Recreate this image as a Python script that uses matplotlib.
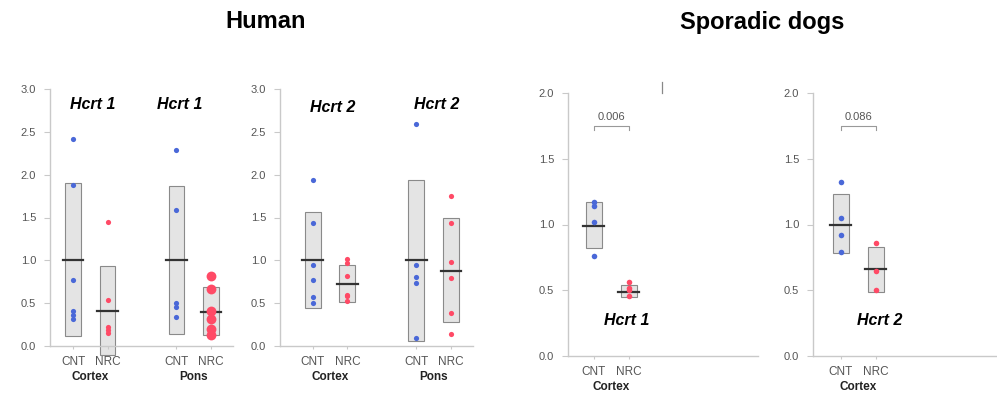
import numpy as np
import matplotlib
matplotlib.use('Agg')
import matplotlib.pyplot as plt
from matplotlib.patches import Rectangle
from matplotlib.lines import Line2D

plt.rcParams['font.family'] = ['Liberation Sans', 'DejaVu Sans']

# ---- data (relative expression) ----
# human Hcrt1
h1_ctx_cnt = [2.42, 1.88, 0.77, 0.41, 0.36, 0.31]
h1_ctx_nrc = [1.45, 0.54, 0.22, 0.19, 0.15]
h1_pons_cnt = [2.29, 1.59, 0.50, 0.45, 0.34]
h1_pons_nrc = [0.82, 0.66, 0.41, 0.32, 0.20, 0.13]
h1_box = [(0.12, 1.90, 1.00), (-0.10, 0.93, 0.41), (0.14, 1.87, 1.00), (0.13, 0.69, 0.40)]

# human Hcrt2
h2_ctx_cnt = [1.94, 1.44, 0.94, 0.77, 0.57, 0.50]
h2_ctx_nrc = [1.02, 0.97, 0.82, 0.60, 0.58, 0.52]
h2_pons_cnt = [2.59, 0.94, 0.80, 0.73, 0.09]
h2_pons_nrc = [1.75, 1.44, 0.98, 0.79, 0.39, 0.14]
h2_box = [(0.44, 1.56, 1.00), (0.51, 0.94, 0.72), (0.06, 1.94, 1.00), (0.28, 1.50, 0.88)]

# dogs
d1_cnt = [1.17, 1.14, 1.02, 0.76]
d1_nrc = [0.56, 0.52, 0.50, 0.46]
d1_box = [(0.82, 1.17, 0.99), (0.45, 0.54, 0.49)]
d2_cnt = [1.32, 1.05, 0.92, 0.79]
d2_nrc = [0.86, 0.65, 0.50]
d2_box = [(0.78, 1.23, 1.00), (0.49, 0.83, 0.66)]

p_dogs = ['0.006', '0.086']

BLUE = '#4a68d8'
RED = '#ff4a66'
GRID = '#c9c9c9'
TXT = '#555555'

W, H = 997, 399
fig = plt.figure(figsize=(W / 100, H / 100), dpi=100)


def make_ax(x0, x1, ybot, ytop, xlim, ylim, yticks):
    ax = fig.add_axes([x0 / W, 1 - ybot / H, (x1 - x0) / W, (ybot - ytop) / H])
    ax.set_xlim(*xlim)
    ax.set_ylim(*ylim)
    for s in ['top', 'right']:
        ax.spines[s].set_visible(False)
    for s in ['left', 'bottom']:
        ax.spines[s].set_color(GRID)
        ax.spines[s].set_linewidth(1.0)
    ax.set_yticks(yticks)
    ax.set_yticklabels(['%.1f' % v for v in yticks])
    ax.tick_params(axis='y', colors=GRID, labelcolor=TXT, labelsize=8, length=4, width=0.8, pad=6)
    ax.tick_params(axis='x', colors=GRID, labelcolor=TXT, labelsize=8.5, length=2, width=0.8, pad=5)
    ax.set_facecolor('none')
    return ax


def draw_group(ax, x, pts, box, color, size):
    lo, hi, mean = box
    ax.add_patch(Rectangle((x - 0.23, lo), 0.46, hi - lo, facecolor='#e4e4e4',
                           edgecolor='#8a8a8a', linewidth=0.8, clip_on=False, zorder=1))
    ax.plot([x - 0.3, x + 0.3], [mean, mean], color='#333333', lw=1.6, zorder=2, clip_on=False)
    ax.scatter([x] * len(pts), pts, s=size, color=color, zorder=3, clip_on=False, linewidths=0)


def xlabels(ax, pos, groups):
    ax.set_xticks(pos)
    ax.set_xticklabels(['CNT', 'NRC'] * len(groups))
    for i, g in enumerate(groups):
        xc = (pos[2 * i] + pos[2 * i + 1]) / 2
        ax.annotate(g, (xc, 0), xycoords=('data', 'axes fraction'), xytext=(0, -22.5),
                    textcoords='offset points', ha='center', va='center',
                    fontsize=8.5, fontweight='bold', color='#222222')


def hlabel(ax, x, y, s):
    ax.text(x, y, s, ha='center', va='center', fontsize=11.5, fontweight='bold',
            fontstyle='italic', color='black')


# --- Human Hcrt1 ---
ax1 = make_ax(50, 233, 346, 89, (0.33, 5.64), (0, 3.0), np.arange(0, 3.01, 0.5))
draw_group(ax1, 1, h1_ctx_cnt, h1_box[0], BLUE, 14)
draw_group(ax1, 2, h1_ctx_nrc, h1_box[1], RED, 14)
draw_group(ax1, 4, h1_pons_cnt, h1_box[2], BLUE, 14)
draw_group(ax1, 5, h1_pons_nrc, h1_box[3], RED, 50)
xlabels(ax1, [1, 2, 4, 5], ['Cortex', 'Pons'])
hlabel(ax1, 1.57, 2.82, 'Hcrt 1')
hlabel(ax1, 4.1, 2.82, 'Hcrt 1')

# --- Human Hcrt2 ---
ax2 = make_ax(280, 473, 346, 89, (0.05, 5.64), (0, 3.0), np.arange(0, 3.01, 0.5))
draw_group(ax2, 1, h2_ctx_cnt, h2_box[0], BLUE, 14)
draw_group(ax2, 2, h2_ctx_nrc, h2_box[1], RED, 14)
draw_group(ax2, 4, h2_pons_cnt, h2_box[2], BLUE, 14)
draw_group(ax2, 5, h2_pons_nrc, h2_box[3], RED, 14)
xlabels(ax2, [1, 2, 4, 5], ['Cortex', 'Pons'])
hlabel(ax2, 1.58, 2.78, 'Hcrt 2')
hlabel(ax2, 4.6, 2.82, 'Hcrt 2')

# --- Dogs Hcrt1 ---
ax3 = make_ax(568, 758, 356, 93, (0.26, 5.69), (0, 2.0), np.arange(0, 2.01, 0.5))
draw_group(ax3, 1, d1_cnt, d1_box[0], BLUE, 16)
draw_group(ax3, 2, d1_nrc, d1_box[1], RED, 16)
xlabels(ax3, [1, 2], ['Cortex'])
hlabel(ax3, 1.95, 0.27, 'Hcrt 1')

# --- Dogs Hcrt2 ---
ax4 = make_ax(813, 997, 356, 93, (0.2, 5.46), (0, 2.0), np.arange(0, 2.01, 0.5))
draw_group(ax4, 1, d2_cnt, d2_box[0], BLUE, 16)
draw_group(ax4, 2, d2_nrc, d2_box[1], RED, 16)
xlabels(ax4, [1, 2], ['Cortex'])
hlabel(ax4, 2.1, 0.27, 'Hcrt 2')

# p-value brackets
for ax, p in zip([ax3, ax4], p_dogs):
    ax.plot([1, 1, 2, 2], [1.72, 1.75, 1.75, 1.72], color='#999999', lw=0.8)
    ax.text(1.5, 1.78, p, ha='center', va='bottom', fontsize=8, color=TXT)

# stray mark
fig.add_artist(Line2D([662 / W, 662 / W], [1 - 93 / H, 1 - 82 / H], color='#888888', lw=0.9))

# titles
fig.text(266 / W, 1 - 22 / H, 'Human', ha='center', va='center', fontsize=17, fontweight='bold')
fig.text(762 / W, 1 - 22 / H, 'Sporadic dogs', ha='center', va='center', fontsize=17, fontweight='bold')

fig.savefig('out.png', dpi=100)
